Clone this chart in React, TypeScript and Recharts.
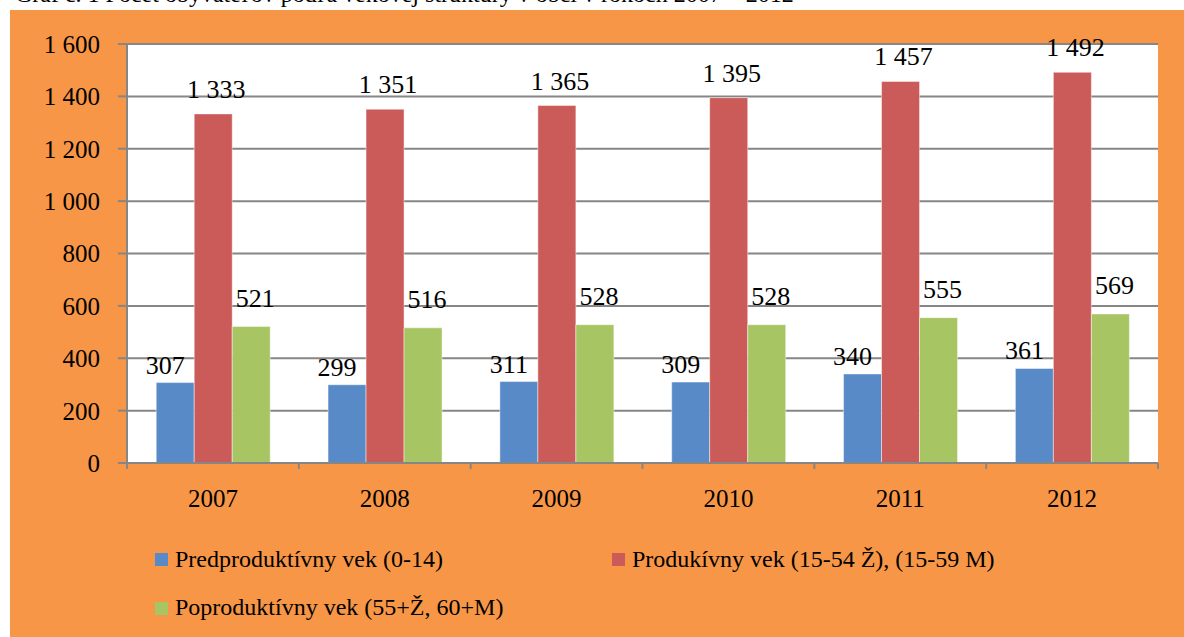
import React from 'react';
import { BarChart, Bar, XAxis, YAxis, CartesianGrid, Legend, LabelList } from 'recharts';

const years = ['2007', '2008', '2009', '2010', '2011', '2012'];
const preproductive = [307, 299, 311, 309, 340, 361];
const productive = [1333, 1351, 1365, 1395, 1457, 1492];
const postproductive = [521, 516, 528, 528, 555, 569];
const yTicks = [0, 200, 400, 600, 800, 1000, 1200, 1400, 1600];
const seriesNames = [
  'Predproduktívny vek (0-14)',
  'Produkívny vek (15-54 Ž), (15-59 M)',
  'Poproduktívny vek (55+Ž, 60+M)',
];
const caption = 'Graf č. 1  Počet obyvateľov podľa vekovej štruktúry v obci v rokoch 2007 – 2012';

const data = years.map((year, i) => ({
  year,
  pre: preproductive[i],
  prod: productive[i],
  post: postproductive[i],
}));

const FONT = '"Liberation Serif", "Times New Roman", serif';
const GRID = '#868686';
const BLUE = '#588AC7';
const RED = '#CB5B58';
const GREEN = '#A7C563';
const ORANGE = '#F79646';
const X_TICK_MARGIN = 26;

const fmt = (v: any) => String(v).replace(/\B(?=(\d{3})+(?!\d))/g, ' ');

const makeLabel = (dx: number, gap: number) => (props: any) => {
  const { x, y, width, value } = props;
  return (
    <text
      x={Number(x) + Number(width) / 2 + dx}
      y={Number(y) - gap}
      textAnchor="middle"
      fontSize={26}
      fontFamily={FONT}
      fill="#000"
    >
      {fmt(value)}
    </text>
  );
};

const XTick = (props: any) => {
  const { x, y, payload, index, visibleTicksCount, width } = props;
  const half = payload && payload.offset ? payload.offset : Number(width) / Number(visibleTicksCount) / 2;
  const axisY = Number(y) - X_TICK_MARGIN;
  return (
    <g>
      <line x1={x - half} x2={x - half} y1={axisY} y2={axisY + 6} stroke={GRID} strokeWidth={2} />
      {index === visibleTicksCount - 1 ? (
        <line x1={x + half} x2={x + half} y1={axisY} y2={axisY + 6} stroke={GRID} strokeWidth={2} />
      ) : null}
      <text x={x} y={y} dy="0.71em" textAnchor="middle" fontSize={25} fontFamily={FONT} fill="#000">
        {payload.value}
      </text>
    </g>
  );
};

const legendColors = [BLUE, RED, GREEN];
const legendPos = [
  { left: 155, sq: 26, txt: 20 },
  { left: 612, sq: 26, txt: 20 },
  { left: 155, sq: 75, txt: 68 },
];

const LegendContent = () => (
  <div style={{ position: 'relative', width: 1158, height: 110 }}>
    {seriesNames.map((name, i) => (
      <React.Fragment key={name}>
        <div
          style={{
            position: 'absolute',
            left: legendPos[i].left,
            top: legendPos[i].sq,
            width: 13,
            height: 13,
            background: legendColors[i],
          }}
        />
        <div
          style={{
            position: 'absolute',
            left: legendPos[i].left + 20,
            top: legendPos[i].txt,
            fontFamily: FONT,
            fontSize: 24,
            lineHeight: '24px',
            color: '#000',
            whiteSpace: 'nowrap',
          }}
        >
          {name}
        </div>
      </React.Fragment>
    ))}
  </div>
);

export default function App() {
  return (
    <div style={{ position: 'fixed', left: 0, top: 0, width: 1184, height: 637, background: '#fff', overflow: 'hidden' }}>
      <div style={{ position: 'absolute', left: 0, top: 0, width: 1184, height: 10, overflow: 'hidden' }}>
        <div
          style={{
            position: 'absolute',
            left: 15,
            top: -18,
            fontFamily: FONT,
            fontSize: 24,
            lineHeight: '24px',
            whiteSpace: 'nowrap',
            color: '#000',
          }}
        >
          {caption}
        </div>
      </div>
      <div style={{ position: 'absolute', left: 10, top: 10, width: 1174, height: 627, background: ORANGE }} />
      <div style={{ position: 'absolute', left: 0, top: 0 }}>
        <BarChart
          width={1184}
          height={637}
          data={data}
          margin={{ top: 44, right: 26, left: 0, bottom: 0 }}
          barCategoryGap="17%"
          barGap={0}
        >
          <CartesianGrid vertical={false} stroke={GRID} strokeWidth={2} fill="#fff" fillOpacity={1} />
          <XAxis
            dataKey="year"
            height={64}
            axisLine={{ stroke: GRID, strokeWidth: 2 }}
            tickLine={false}
            tickSize={0}
            tickMargin={X_TICK_MARGIN}
            tick={<XTick />}
            interval={0}
          />
          <YAxis
            width={127}
            domain={[0, 1600]}
            ticks={yTicks}
            interval={0}
            axisLine={{ stroke: GRID, strokeWidth: 2 }}
            tickLine={{ stroke: GRID, strokeWidth: 2 }}
            tickSize={9}
            tickMargin={18}
            tickFormatter={fmt}
            tick={{ fill: '#000', fontSize: 25, fontFamily: FONT }}
          />
          <Legend
            verticalAlign="bottom"
            align="left"
            content={<LegendContent />}
            wrapperStyle={{ left: 0, bottom: 0, width: 1158, height: 110 }}
          />
          <Bar dataKey="pre" name={seriesNames[0]} fill={BLUE} stroke="rgba(255,255,255,0.45)" strokeWidth={1} isAnimationActive={false}>
            <LabelList dataKey="pre" content={makeLabel(-10, 9)} />
          </Bar>
          <Bar dataKey="prod" name={seriesNames[1]} fill={RED} stroke="rgba(255,255,255,0.45)" strokeWidth={1} isAnimationActive={false}>
            <LabelList dataKey="prod" content={makeLabel(3, 16)} />
          </Bar>
          <Bar dataKey="post" name={seriesNames[2]} fill={GREEN} stroke="rgba(255,255,255,0.45)" strokeWidth={1} isAnimationActive={false}>
            <LabelList dataKey="post" content={makeLabel(4, 20)} />
          </Bar>
        </BarChart>
      </div>
    </div>
  );
}
